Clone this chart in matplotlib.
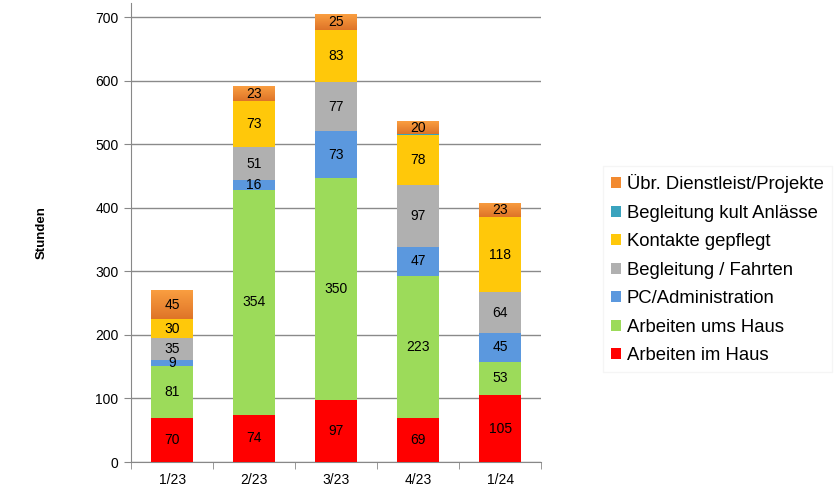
import matplotlib.pyplot as plt
import numpy as np
from matplotlib.colors import LinearSegmentedColormap

plt.rcParams['font.family'] = ['Liberation Sans', 'DejaVu Sans']

# Daten
kategorien = ["1/23", "2/23", "3/23", "4/23", "1/24"]
serien = ["Arbeiten im Haus", "Arbeiten ums Haus", "PC/Administration",
          "Begleitung / Fahrten", "Kontakte gepflegt",
          "Begleitung kult Anlässe", "Übr. Dienstleist/Projekte"]
arbeiten_im_haus = [70, 74, 97, 69, 105]
arbeiten_ums_haus = [81, 354, 350, 223, 53]
pc_admin = [9, 16, 73, 47, 45]
begleitung_fahrten = [35, 51, 77, 97, 64]
kontakte = [30, 73, 83, 78, 118]
begleitung_kult = [0, 0, 0, 2, 0]
uebr_dienstleist = [45, 23, 25, 20, 23]
werte = [arbeiten_im_haus, arbeiten_ums_haus, pc_admin, begleitung_fahrten,
         kontakte, begleitung_kult, uebr_dienstleist]
farben = ["#FF0000", "#9CDB5A", "#5B98DE", "#B0B0B0", "#FFC80A",
          "#3AA3BE", "#F28A30"]
y_ticks = [0, 100, 200, 300, 400, 500, 600, 700]

# Verlauf fuer die orangen Balken (oben hell, unten dunkel)
verlauf = LinearSegmentedColormap.from_list("orange", ["#DE7428", "#FA9E40"])

fig = plt.figure(figsize=(8.35, 4.87), dpi=100)
ax = fig.add_axes([0.157, 0.0513, 0.491, 0.9425])

x = np.arange(len(kategorien))
breite = 0.51
unten = np.zeros(len(kategorien))
for name, w, c in zip(serien, werte, farben):
    w = np.array(w, dtype=float)
    bars = ax.bar(x, w, breite, bottom=unten, color=c, label=name, zorder=3,
                  edgecolor="none")
    if name.startswith("Übr"):
        for b in bars:
            bx, by = b.get_x(), b.get_y()
            im = ax.imshow(np.linspace(0, 1, 50).reshape(-1, 1), cmap=verlauf,
                           aspect="auto", origin="lower", zorder=3.5,
                           extent=[bx, bx + b.get_width(), by, by + b.get_height()])
            im.set_clip_path(b)
    for xi, b, v in zip(x, unten, w):
        if v >= 5:
            ax.text(xi, b + v / 2, "%d" % v, ha="center", va="center",
                    fontsize=10, color="black", zorder=4)
    unten += w

# Achsen
ax.set_xlim(-0.5, len(kategorien) - 0.5)
ax.set_ylim(0, 722)
ax.set_yticks(y_ticks)
ax.set_xticks(x)
ax.set_xticklabels(kategorien)
ax.set_xticks(np.arange(-0.5, len(kategorien)), minor=True)
ax.tick_params(axis="x", which="major", length=0, labelsize=10, pad=8)
ax.tick_params(axis="x", which="minor", length=5, color="#888888")
ax.tick_params(axis="y", length=5, color="#888888", labelsize=10, pad=4)
ax.yaxis.grid(True, color="#8A8A8A", linewidth=1, zorder=0)
ax.set_axisbelow(True)
for s in ["top", "right"]:
    ax.spines[s].set_visible(False)
for s in ["left", "bottom"]:
    ax.spines[s].set_color("#888888")
ax.set_ylabel("Stunden", fontsize=9.5, fontweight="bold", labelpad=34)

# Legende
h, l = ax.get_legend_handles_labels()
leg = fig.legend(h[::-1], l[::-1], loc="upper left",
                 bbox_to_anchor=(0.711, 0.678), frameon=True,
                 fontsize=13.3, handlelength=0.55, handleheight=0.55,
                 handletextpad=0.3, labelspacing=0.62, borderpad=0.45,
                 fancybox=False)
leg.get_frame().set_edgecolor("#F3F3F3")

fig.savefig("out.png", dpi=100)
